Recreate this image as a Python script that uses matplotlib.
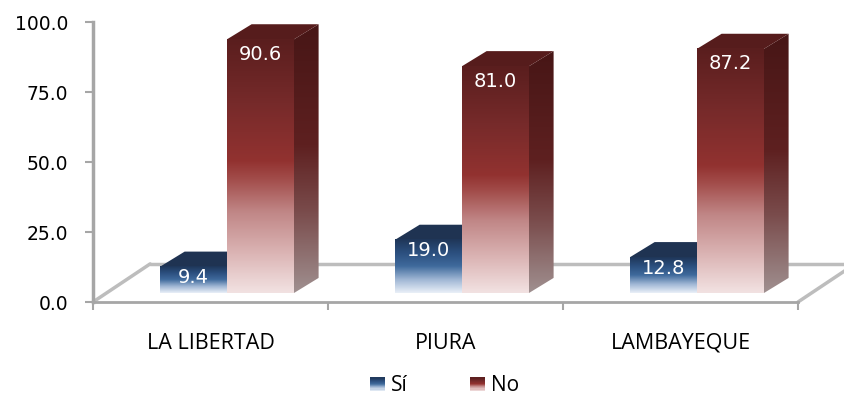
import numpy as np
import matplotlib
matplotlib.use('Agg')
import matplotlib.pyplot as plt
from matplotlib.colors import LinearSegmentedColormap
from matplotlib.patches import Polygon, Rectangle, Patch
from matplotlib.legend_handler import HandlerBase
from matplotlib.ticker import FormatStrFormatter

regiones = ['LA LIBERTAD', 'PIURA', 'LAMBAYEQUE']
si = [9.4, 19.0, 12.8]
no = [90.6, 81.0, 87.2]
yticks = [0, 25, 50, 75, 100]

# degradados (0 = abajo, 1 = arriba)
cm_si = LinearSegmentedColormap.from_list('si', [
    (0.0, '#eaf0f8'), (0.25, '#9fb6d4'), (0.5, '#3f6a9c'), (0.75, '#2b4f7e'), (1.0, '#1f3658')])
cm_no = LinearSegmentedColormap.from_list('no', [
    (0.0, '#f2e2e2'), (0.15, '#dcb6b6'), (0.32, '#c08686'), (0.45, '#a24c4a'),
    (0.52, '#923230'), (0.75, '#762a2a'), (1.0, '#5a1e1e')])
cm_no_lado = LinearSegmentedColormap.from_list('no_lado', [
    (0.0, '#a09090'), (0.3, '#7a4c4c'), (0.55, '#5e2020'), (1.0, '#471616')])
cm_si_lado = LinearSegmentedColormap.from_list('si_lado', [
    (0.0, '#8a9ab0'), (1.0, '#1a2c48')])

fig = plt.figure(figsize=(8.44, 3.97), dpi=100)
ax = fig.add_axes([93 / 844, 95 / 397, 705 / 844, 280 / 397])
ax.set_xlim(-0.5, 2.5)
ax.set_ylim(0, 100)

# piso en perspectiva
fdx, fdy = 0.243, 13.6
piso = dict(color='#bdbdbd', lw=2.5, clip_on=False, zorder=1, solid_capstyle='round')
ax.plot([-0.5, -0.5 + fdx], [0, fdy], **piso)
ax.plot([-0.5 + fdx, 2.5 + fdx], [fdy, fdy], **piso)
ax.plot([2.5, 2.5 + fdx], [0, fdy], **piso)

x = np.arange(len(regiones))
w = 0.285
shift = 0.07
base = 3.2
dx, dy = 0.105, 5.4

b_si = ax.bar(x + shift - w / 2, si, w, bottom=base, color='none', edgecolor='none')
b_no = ax.bar(x + shift + w / 2, no, w, bottom=base, color='none', edgecolor='none')

grad = np.linspace(0, 1, 256).reshape(-1, 1)


def caja(rect, cm_frente, cm_lado, c_tapa, z):
    x0, y0 = rect.get_xy()
    x1 = x0 + rect.get_width()
    y1 = y0 + rect.get_height()
    lado = Polygon([(x1, y0), (x1 + dx, y0 + dy), (x1 + dx, y1 + dy), (x1, y1)],
                   closed=True, facecolor='none', edgecolor='none')
    ax.add_patch(lado)
    im = ax.imshow(grad, cmap=cm_lado, extent=[x1, x1 + dx, y0, y1 + dy],
                   origin='lower', aspect='auto', zorder=z)
    im.set_clip_path(lado)
    ax.add_patch(Polygon([(x0, y1), (x0 + dx, y1 + dy), (x1 + dx, y1 + dy), (x1, y1)],
                         closed=True, facecolor=c_tapa, edgecolor='none', zorder=z))
    ax.imshow(grad, cmap=cm_frente, extent=[x0, x1, y0, y1],
              origin='lower', aspect='auto', zorder=z + 0.5)


for r in b_si:
    caja(r, cm_si, cm_si_lado, '#1f3352', 3)
for r in b_no:
    caja(r, cm_no, cm_no_lado, '#561c1c', 4)

for bars, vals, off in [(b_si, si, -1), (b_no, no, -4)]:
    for r, v in zip(bars, vals):
        ax.annotate(f'{v:.1f}', (r.get_x() + r.get_width() / 2, r.get_y() + r.get_height()),
                    xytext=(0, off), textcoords='offset points', ha='center', va='top',
                    color='white', fontsize=14, zorder=6)

ax.set_xlim(-0.5, 2.5)
ax.set_ylim(0, 100)

for s in ['top', 'right']:
    ax.spines[s].set_visible(False)
ax.spines['left'].set_color('#a6a6a6')
ax.spines['left'].set_linewidth(2.5)
ax.spines['bottom'].set_color('#a6a6a6')
ax.spines['bottom'].set_linewidth(2)

ax.set_yticks(yticks)
ax.yaxis.set_major_formatter(FormatStrFormatter('%.1f'))
ax.tick_params(axis='y', length=6, width=1.5, color='#a6a6a6', pad=12, labelsize=13.5)
ax.set_xticks(x, regiones, fontfamily='Open Sans', fontsize=15.5)
ax.tick_params(axis='x', which='major', length=0, pad=22)
ax.set_xticks([-0.5, 0.5, 1.5, 2.5], minor=True)
ax.tick_params(axis='x', which='minor', length=6, width=1.5, color='#a6a6a6')


class Degradado(HandlerBase):
    def __init__(self, cmap):
        super().__init__()
        self.cmap = cmap

    def create_artists(self, legend, orig_handle, xdescent, ydescent, width, height, fontsize, trans):
        n = 12
        out = []
        for i in range(n):
            out.append(Rectangle((-xdescent, -ydescent + height * i / n), width, height / n * 1.05,
                                 facecolor=self.cmap((i + 0.5) / n), edgecolor='none', transform=trans))
        return out


h_si = Patch(label='Sí')
h_no = Patch(label='No')
fig.legend(handles=[h_si, h_no], handler_map={h_si: Degradado(cm_si), h_no: Degradado(cm_no)},
           loc='center', bbox_to_anchor=(0.527, 0.028), ncol=2, frameon=False,
           prop={'family': 'Open Sans', 'size': 15}, handlelength=0.7, handleheight=0.6,
           handletextpad=0.3, columnspacing=3.0)

fig.savefig('out.png', dpi=100)
